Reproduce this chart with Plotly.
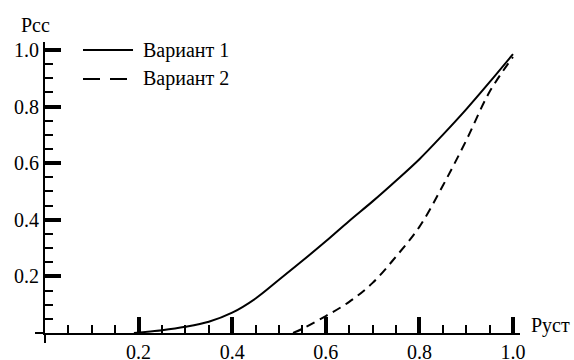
import plotly.graph_objects as go

# Data
var1_x = [0.19, 0.25, 0.30, 0.35, 0.40, 0.45, 0.50, 0.55, 0.60, 0.65, 0.70, 0.75, 0.80, 0.85, 0.90, 0.95, 1.00]
var1_y = [0.0, 0.01, 0.022, 0.04, 0.072, 0.122, 0.188, 0.255, 0.324, 0.396, 0.465, 0.538, 0.614, 0.70, 0.79, 0.886, 0.985]

var2_x = [0.53, 0.55, 0.60, 0.65, 0.70, 0.75, 0.80, 0.85, 0.90, 0.95, 1.00]
var2_y = [0.0, 0.015, 0.06, 0.11, 0.177, 0.27, 0.375, 0.52, 0.68, 0.852, 0.975]

major_ticks = [0.2, 0.4, 0.6, 0.8, 1.0]
minor_ticks = [0.05, 0.10, 0.15, 0.25, 0.30, 0.35, 0.45, 0.50, 0.55,
               0.65, 0.70, 0.75, 0.85, 0.90, 0.95]

series_names = ["Вариант 1", "Вариант 2"]
x_title = "Руст"
y_title = "Рсс"

FONT = "Liberation Serif"
FS = 20

fig = go.Figure()
fig.add_trace(go.Scatter(x=var1_x, y=var1_y, mode="lines", name=series_names[0],
                         line=dict(color="black", width=2, shape="spline", smoothing=1.0),
                         cliponaxis=False, showlegend=False))
fig.add_trace(go.Scatter(x=var2_x, y=var2_y, mode="lines", name=series_names[1],
                         line=dict(color="black", width=2, dash="9px,6px", shape="spline", smoothing=1.0),
                         cliponaxis=False, showlegend=False))

axis_common = dict(
    showgrid=False, zeroline=False, showline=True, linecolor="black", linewidth=2,
    automargin=False,
    ticks="inside", ticklen=16, tickwidth=4, tickcolor="black",
    tickmode="array", tickvals=major_ticks, tickformat=".1f",
    tickfont=dict(family=FONT, size=FS, color="black"),
    minor=dict(tickmode="array", tickvals=minor_ticks, ticks="inside",
               ticklen=8, tickwidth=2, tickcolor="black"),
)

fig.update_layout(
    width=574, height=360,
    margin=dict(l=45, r=54, t=42, b=27, autoexpand=False),
    paper_bgcolor="white", plot_bgcolor="white",
    font=dict(family=FONT, size=FS, color="black"),
    xaxis=dict(range=[0, 1.015], **axis_common),
    yaxis=dict(range=[0, 1.028], **axis_common),
    showlegend=False,
)

# axis line extensions past the origin
fig.add_shape(type="line", xref="paper", yref="paper", xsizemode="pixel", xanchor=0,
              x0=-10, x1=0, y0=0, y1=0, line=dict(color="black", width=2))
fig.add_shape(type="line", xref="paper", yref="paper", ysizemode="pixel", yanchor=0,
              x0=0, x1=0, y0=-10, y1=0, line=dict(color="black", width=2))

# axis titles
fig.add_annotation(text=y_title, xref="paper", yref="paper", x=0, y=1,
                   xanchor="center", yanchor="middle", xshift=-10, yshift=17,
                   showarrow=False, font=dict(family=FONT, size=FS))
fig.add_annotation(text=x_title, xref="paper", yref="paper", x=1, y=0,
                   xanchor="left", yanchor="middle", xshift=9, yshift=8,
                   showarrow=False, font=dict(family=FONT, size=FS))

# manual legend
leg_y = [0.9725, 0.873]
dashes = ["solid", "17px,10px"]
for name, ly, d in zip(series_names, leg_y, dashes):
    fig.add_shape(type="line", xref="paper", yref="paper", x0=0.08, x1=0.1853,
                  y0=ly, y1=ly, line=dict(color="black", width=2, dash=d))
    fig.add_annotation(text=name, xref="paper", yref="paper", x=0.202, y=ly,
                       xanchor="left", yanchor="middle", showarrow=False,
                       font=dict(family=FONT, size=FS))

fig.write_html("out.html", config={"displayModeBar": False},
               post_script="document.body.style.margin='0';document.body.style.padding='0';")
